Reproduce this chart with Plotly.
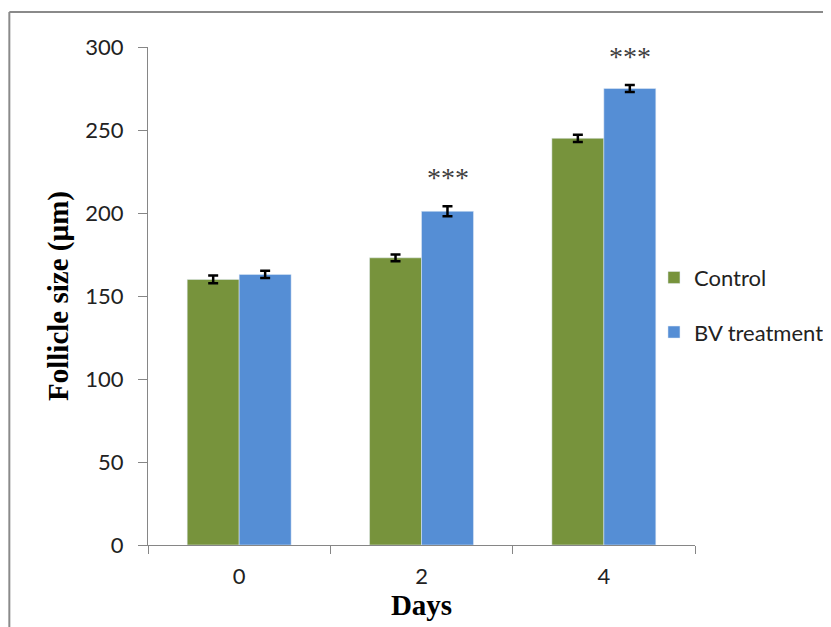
import plotly.graph_objects as go

days = ["0", "2", "4"]
control = [160, 173, 245]
control_err = [2.3, 2.0, 2.2]
bv = [163, 201, 275]
bv_err = [2.2, 3.0, 2.1]
significance = ["", "***", "***"]

green = "#77933C"
blue = "#558ED5"

fig = go.Figure()
fig.add_trace(go.Bar(
    x=days, y=control, name="Control", marker_color=green,
    error_y=dict(type="data", array=control_err, color="black", thickness=2.5, width=5),
    legendgroup="a",
))
fig.add_trace(go.Bar(
    x=days, y=bv, name="BV treatment", marker_color=blue,
    error_y=dict(type="data", array=bv_err, color="black", thickness=2.5, width=5),
    legendgroup="b",
))

for i, (v, e, s) in enumerate(zip(bv, bv_err, significance)):
    if s:
        fig.add_annotation(x=i, y=v + e, text=s, showarrow=False, xshift=26, yshift=29,
                           yanchor="middle", font=dict(family="Liberation Serif", size=28, color="#404040"))

# outer chart frame (top and left edges visible, others beyond the view)
frame = dict(color="#8a8a8a", width=2)
fig.add_shape(type="line", xref="paper", yref="paper", x0=-0.2535, x1=1.4, y0=1.0703, y1=1.0703,
              line=frame, layer="below")
fig.add_shape(type="line", xref="paper", yref="paper", x0=-0.2535, x1=-0.2535, y0=-0.3, y1=1.0703,
              line=frame, layer="below")

fig.update_layout(
    width=831, height=627,
    margin=dict(l=140, r=144, t=39, b=90, autoexpand=False),
    paper_bgcolor="white", plot_bgcolor="white",
    barmode="group", bargap=0.43, bargroupgap=0,
    showlegend=True,
    legend=dict(x=0.925, y=0.579, xanchor="left", yanchor="top", tracegroupgap=23,
                font=dict(family="Lato", size=22, color="#222222"), bgcolor="rgba(0,0,0,0)",
                itemwidth=30),
    xaxis=dict(
        type="category", range=[-0.5, 2.5],
        showline=True, linecolor="#868686", linewidth=1,
        ticks="outside", tickson="boundaries", ticklen=8, tickcolor="#868686",
        ticklabelstandoff=12,
        tickfont=dict(family="Lato", size=22, color="#222222"),
        title=dict(text="<b>Days</b>", font=dict(family="Liberation Serif", size=29, color="black"), standoff=4),
    ),
    yaxis=dict(
        range=[0, 300], tick0=0, dtick=50, showgrid=False, zeroline=False,
        showline=True, linecolor="#868686", linewidth=1,
        ticks="outside", ticklen=9, tickcolor="#868686",
        ticklabelstandoff=10,
        tickfont=dict(family="Lato", size=22, color="#222222"),
        title=dict(text="<b>Follicle size (µm)</b>", font=dict(family="Liberation Serif", size=29, color="black"), standoff=8),
    ),
)

fig.write_html("out.html")
